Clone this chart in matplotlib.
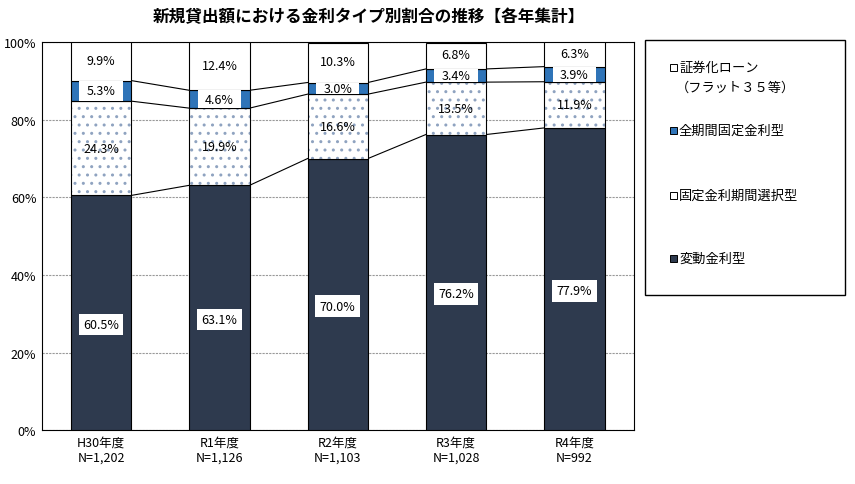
import matplotlib
matplotlib.use("Agg")
import matplotlib.pyplot as plt
import numpy as np
from matplotlib.patches import Rectangle

plt.rcParams["font.family"] = ["Noto Sans CJK JP", "DejaVu Sans"]

categories = ["H30年度\nN=1,202", "R1年度\nN=1,126", "R2年度\nN=1,103", "R3年度\nN=1,028", "R4年度\nN=992"]
variable = [60.5, 63.1, 70.0, 76.2, 77.9]
selective = [24.3, 19.9, 16.6, 13.5, 11.9]
fullfixed = [5.3, 4.6, 3.0, 3.4, 3.9]
securitized = [9.9, 12.4, 10.3, 6.8, 6.3]
legend_labels = ["証券化ローン\n（フラット３５等）", "全期間固定金利型", "固定金利期間選択型", "変動金利型"]

fig = plt.figure(figsize=(8.55, 4.85), dpi=100)
ax = fig.add_axes([0.049, 0.111, 0.692, 0.800])
x = np.arange(len(categories))
w = 0.51
v = np.array(variable); s = np.array(selective); f = np.array(fullfixed); c = np.array(securitized)

ax.bar(x, v, w, color="#2e3a4e", edgecolor="black", lw=0.8, zorder=3)
ax.bar(x, s, w, bottom=v, color="white", edgecolor="#8fa3c0", hatch="..", lw=0, zorder=3)
ax.bar(x, s, w, bottom=v, fill=False, edgecolor="black", lw=0.8, zorder=4)
ax.bar(x, f, w, bottom=v + s, color="#2f74b8", edgecolor="black", lw=0.8, zorder=3)
ax.bar(x, f, w * 0.72, bottom=v + s, color="white", edgecolor="none", zorder=4)
ax.bar(x, c, w, bottom=v + s + f, color="white", edgecolor="black", lw=0.8, zorder=3)

# connector lines
for tops in [v, v + s, v + s + f]:
    for i in range(len(x) - 1):
        ax.plot([x[i] + w / 2, x[i + 1] - w / 2], [tops[i], tops[i + 1]], color="black", lw=0.8, zorder=2)

fs = 9
for i in range(len(x)):
    ax.text(x[i], v[i] / 2 - 3, f"{variable[i]:.1f}%", ha="center", va="center", fontsize=fs,
            bbox=dict(boxstyle="square,pad=0.35", fc="white", ec="none"), zorder=5)
    ax.text(x[i], v[i] + s[i] / 2, f"{selective[i]:.1f}%", ha="center", va="center", fontsize=fs, zorder=5)
    ax.text(x[i], v[i] + s[i] + f[i] / 2, f"{fullfixed[i]:.1f}%", ha="center", va="center", fontsize=fs, zorder=5)
    ax.text(x[i], v[i] + s[i] + f[i] + c[i] / 2 + 0.3, f"{securitized[i]:.1f}%", ha="center", va="center", fontsize=fs, zorder=5)

ax.set_xlim(-0.5, 4.5)
ax.set_ylim(0, 100)
ax.set_yticks(range(0, 101, 20))
ax.set_yticklabels([f"{t}%" for t in range(0, 101, 20)], fontsize=9)
ax.set_xticks(x)
ax.set_xticklabels(categories, fontsize=9)
ax.tick_params(length=0, pad=4)
ax.grid(axis="y", color="#999999", lw=0.8, ls=(0, (2, 1)), zorder=0)
for sp in ax.spines.values():
    sp.set_color("black"); sp.set_linewidth(0.8)

fig.text(0.432, 0.965, "新規貸出額における金利タイプ別割合の推移【各年集計】", ha="center", va="center",
         fontsize=12, fontweight="bold")

# legend box
fig.patches.append(Rectangle((645 / 855, 1 - 296 / 485), 200 / 855, 255 / 485, transform=fig.transFigure,
                             fill=False, ec="black", lw=1))
leg_colors = ["white", "#2f74b8", "white", "#2e3a4e"]
leg_y = [68, 131, 196, 259]
for lab, col, yy in zip(legend_labels, leg_colors, leg_y):
    fig.patches.append(Rectangle((670 / 855, 1 - (yy + 4) / 485), 7 / 855, 7 / 485, transform=fig.transFigure,
                                 fc=col, ec="black", lw=0.7))
    first, *rest = lab.split("\n")
    fig.text(679 / 855, 1 - yy / 485, first, ha="left", va="center", fontsize=9.5)
    if rest:
        fig.text(676 / 855, 1 - (yy + 20) / 485, rest[0], ha="left", va="center", fontsize=9.5)

fig.savefig("out.png", dpi=100)
